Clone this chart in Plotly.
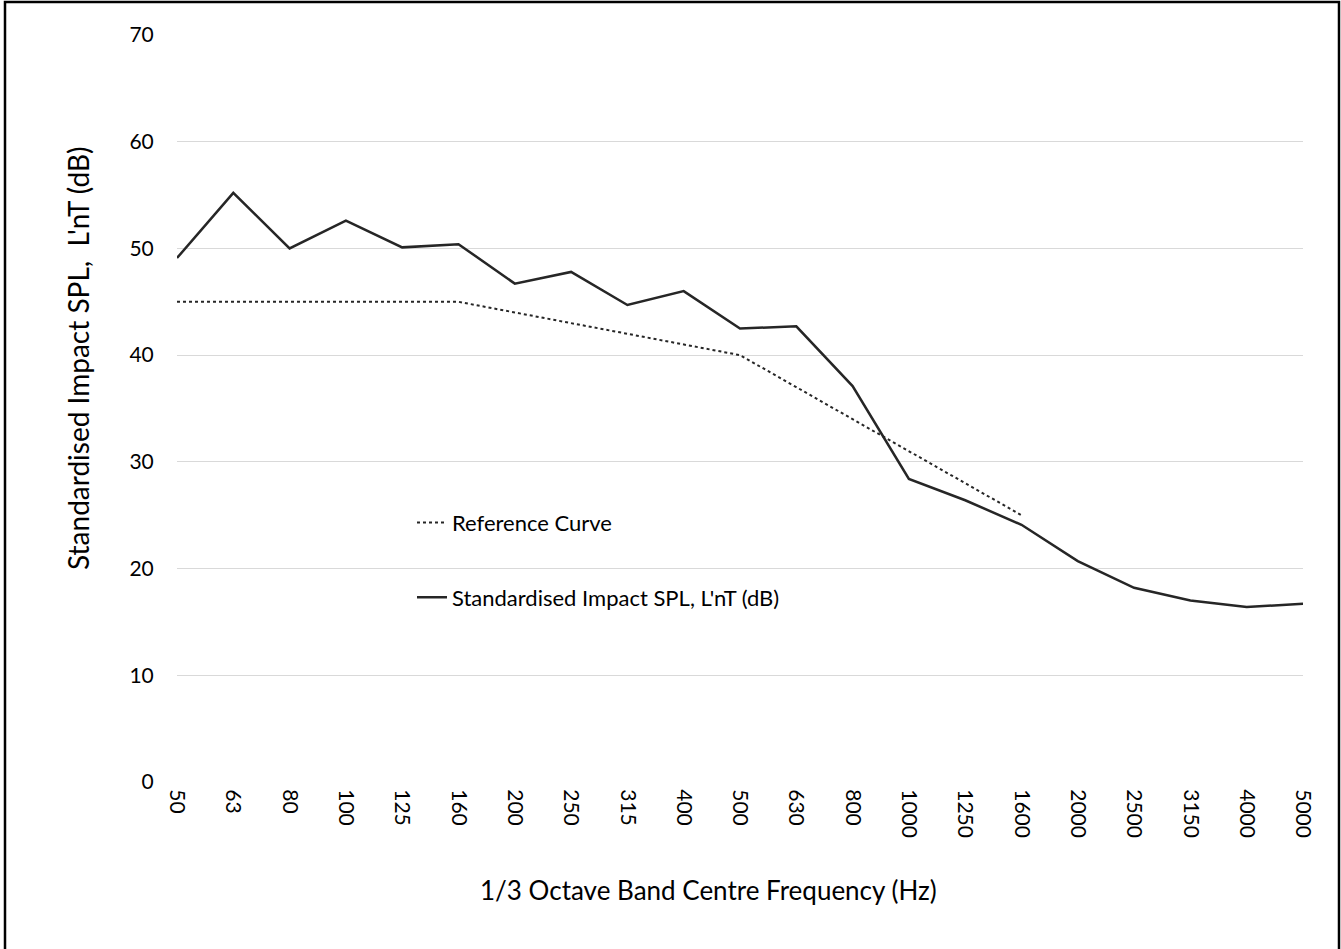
import plotly.graph_objects as go

freqs = ["50", "63", "80", "100", "125", "160", "200", "250", "315", "400", "500",
         "630", "800", "1000", "1250", "1600", "2000", "2500", "3150", "4000", "5000"]
lnt = [49.1, 55.2, 50.0, 52.6, 50.1, 50.4, 46.7, 47.8, 44.7, 46.0, 42.5,
       42.7, 37.1, 28.4, 26.4, 24.1, 20.7, 18.2, 17.0, 16.4, 16.7]
ref_freqs = freqs[:16]
ref_curve = [45, 45, 45, 45, 45, 45, 44, 43, 42, 41, 40, 37, 34, 31, 28, 25]

x_title = "1/3 Octave Band Centre Frequency (Hz)"
y_title = "Standardised Impact SPL,\u00a0\u00a0L'nT (dB)"

FONT = "Lato"
LINE = "#262626"

fig = go.Figure()
fig.add_trace(go.Scatter(
    x=ref_freqs, y=ref_curve, mode="lines", name="Reference Curve",
    line=dict(color=LINE, width=2, dash="dot"), legend="legend", showlegend=True))
fig.add_trace(go.Scatter(
    x=freqs, y=lnt, mode="lines", name="Standardised Impact SPL, L'nT (dB)",
    line=dict(color=LINE, width=2.5), legend="legend2", showlegend=True))

fig.update_layout(
    width=1341, height=949,
    margin=dict(l=177, r=38, t=35, b=167),
    paper_bgcolor="white", plot_bgcolor="white",
    font=dict(family=FONT, size=22, color="black"),
    showlegend=True,
    legend=dict(x=0.2087, y=0.347, xanchor="left", yanchor="middle",
                bgcolor="rgba(0,0,0,0)", font=dict(size=22)),
    legend2=dict(x=0.2087, y=0.247, xanchor="left", yanchor="middle",
                 bgcolor="rgba(0,0,0,0)", font=dict(size=22)),
    xaxis=dict(type="category", range=[0, 20], showgrid=False, showline=False,
               zeroline=False, tickangle=90, ticks="outside", ticklen=2,
               tickcolor="rgba(0,0,0,0)", tickfont=dict(size=21)),
    yaxis=dict(range=[0, 70], dtick=10, showgrid=True, gridcolor="#d9d9d9",
               gridwidth=1, zeroline=False, showline=False, ticks="outside",
               ticklen=18, tickcolor="rgba(0,0,0,0)",
               tickfont=dict(size=21)),
    annotations=[
        dict(text=x_title, xref="paper", yref="paper",
             x=(708 - 177) / 1126, y=(782 - 890) / 747,
             xanchor="center", yanchor="middle", showarrow=False,
             font=dict(size=26)),
        dict(text=y_title, xref="paper", yref="paper", textangle=-90,
             x=(78 - 177) / 1126, y=(782 - 358) / 747,
             xanchor="center", yanchor="middle", showarrow=False,
             font=dict(size=28)),
    ],
    shapes=[dict(type="rect", xref="paper", yref="paper",
                 x0=(5 - 177) / 1126, x1=(1339 - 177) / 1126,
                 y0=(782 - 960) / 747, y1=(782 - 2) / 747,
                 line=dict(color="black", width=2.5), fillcolor="rgba(0,0,0,0)",
                 layer="below")],
)

fig.write_html("out.html", config={"displayModeBar": False},
               post_script="document.body.style.margin='0';")
